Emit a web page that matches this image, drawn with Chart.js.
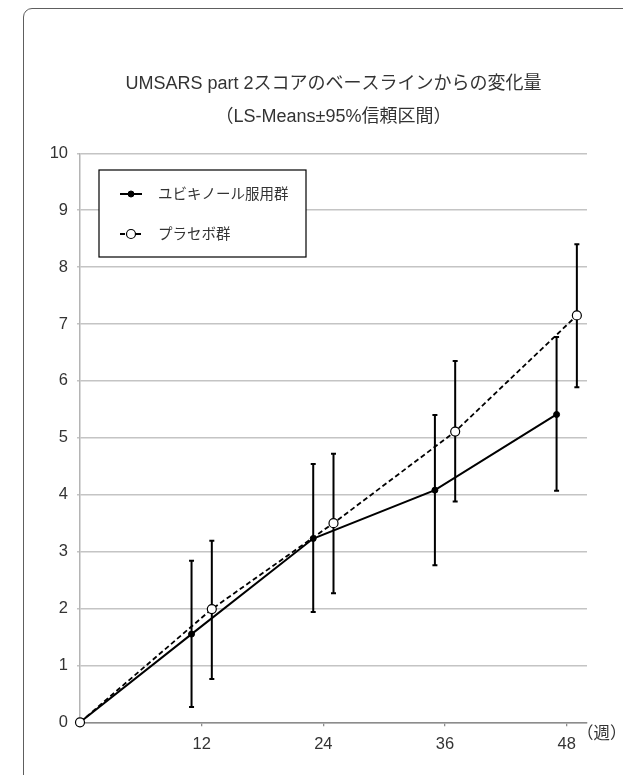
<!DOCTYPE html>
<html>
<head>
<meta charset="utf-8">
<script src="https://cdn.jsdelivr.net/npm/chart.js@4"></script>
<style>
  html, body { margin: 0; padding: 0; background: #fff; overflow: hidden; }
  #wrap { position: relative; width: 623px; height: 775px; overflow: hidden; }
  #frame { position: absolute; left: 23px; top: 8px; width: 680px; height: 840px;
           border: 1.3px solid #5e5e5e; border-radius: 9px; box-sizing: border-box; }
  #c { position: absolute; left: 0; top: 0; }
</style>
</head>
<body>
<div id="wrap">
  <div id="frame"></div>
  <canvas id="c" width="623" height="775"></canvas>
</div>
<script>
// Chart text
const titleLines = ['UMSARS part 2スコアのベースラインからの変化量', '（LS-Means±95%信頼区間）'];
const seriesNames = ['ユビキノール服用群', 'プラセボ群'];
const xUnitLabel = '（週）';

// Visit weeks and axis ticks
const weeks = [0, 12, 24, 36, 48];
const xTickValues = [12, 24, 36, 48];

// Change from baseline: LS-means and 95% confidence limits
const ubiMean  = [0, 1.55, 3.23, 4.08, 5.41];
const ubiLower = [null, 0.27, 1.94, 2.76, 4.07];
const ubiUpper = [null, 2.84, 4.54, 5.40, 6.77];

const placeboMean  = [0, 1.99, 3.50, 5.11, 7.15];
const placeboLower = [null, 0.76, 2.27, 3.88, 5.89];
const placeboUpper = [null, 3.19, 4.72, 6.35, 8.40];

// Horizontal dodge (in weeks) so the two groups' error bars do not overlap
const dodge = 1;

const FONT = '"Liberation Sans", "Noto Sans CJK JP", sans-serif';
const TEXT = '#333333';

function points(mean, shift) {
  return weeks.map((w, i) => ({ x: w === 0 ? 0 : w + shift, y: mean[i] }));
}

// Vertical error bars with small caps, drawn beneath lines and markers
const errorBarPlugin = {
  id: 'errorBars',
  beforeDatasetsDraw(chart) {
    const { ctx, scales: { x, y } } = chart;
    ctx.save();
    chart.data.datasets.forEach(ds => {
      if (!ds.lower) return;
      ds.data.forEach((p, i) => {
        if (ds.lower[i] == null) return;
        const px = x.getPixelForValue(p.x);
        const y1 = y.getPixelForValue(ds.lower[i]);
        const y2 = y.getPixelForValue(ds.upper[i]);
        ctx.strokeStyle = '#000';
        ctx.lineWidth = 2;
        ctx.beginPath();
        ctx.moveTo(px, y1); ctx.lineTo(px, y2);
        ctx.moveTo(px - 2.5, y1); ctx.lineTo(px + 2.5, y1);
        ctx.moveTo(px - 2.5, y2); ctx.lineTo(px + 2.5, y2);
        ctx.stroke();
      });
    });
    ctx.restore();
  }
};

// Boxed legend inside the plot area
const boxLegendPlugin = {
  id: 'boxLegend',
  afterDatasetsDraw(chart, args, opts) {
    const { ctx } = chart;
    const { left, top, width, height, rowY, sampleX0, sampleX1, textX } = opts;
    ctx.save();
    ctx.fillStyle = '#fff';
    ctx.fillRect(left, top, width, height);
    ctx.strokeStyle = '#000';
    ctx.lineWidth = 1.2;
    ctx.strokeRect(left, top, width, height);
    chart.data.datasets.forEach((ds, i) => {
      const yy = rowY[i];
      ctx.strokeStyle = ds.borderColor;
      ctx.lineWidth = ds.borderWidth;
      ctx.setLineDash(ds.borderDash || []);
      ctx.beginPath();
      ctx.moveTo(sampleX0, yy); ctx.lineTo(sampleX1, yy);
      ctx.stroke();
      ctx.setLineDash([]);
      const cx = (sampleX0 + sampleX1) / 2;
      ctx.beginPath();
      ctx.arc(cx, yy, ds.pointRadius, 0, Math.PI * 2);
      ctx.fillStyle = ds.pointBackgroundColor;
      ctx.fill();
      ctx.lineWidth = ds.pointBorderWidth;
      ctx.strokeStyle = ds.pointBorderColor;
      ctx.stroke();
      ctx.fillStyle = TEXT;
      ctx.font = '14.5px ' + FONT;
      ctx.textAlign = 'left';
      ctx.textBaseline = 'middle';
      ctx.fillText(ds.label, textX, yy + 1);
    });
    ctx.restore();
  }
};

// Unit text placed after the last x tick label
const xUnitPlugin = {
  id: 'xUnit',
  afterDraw(chart) {
    const scale = chart.scales.x;
    const items = scale.getLabelItems();
    if (!items.length) return;
    const last = items[items.length - 1];
    const { ctx } = chart;
    ctx.save();
    ctx.font = last.font.string;
    const w = ctx.measureText(String(last.label)).width;
    const [tx, ty] = last.options.translation;
    ctx.fillStyle = TEXT;
    ctx.textAlign = 'left';
    ctx.textBaseline = last.options.textBaseline;
    ctx.fillText(xUnitLabel, tx + w / 2 + 1, ty);
    ctx.restore();
  }
};

new Chart(document.getElementById('c'), {
  type: 'line',
  data: {
    datasets: [
      {
        label: seriesNames[0],
        data: points(ubiMean, -dodge),
        lower: ubiLower,
        upper: ubiUpper,
        borderColor: '#000',
        borderWidth: 2,
        pointRadius: 3,
        pointBackgroundColor: '#000',
        pointBorderColor: '#000',
        pointBorderWidth: 1,
        tension: 0,
        clip: false,
        order: 1
      },
      {
        label: seriesNames[1],
        data: points(placeboMean, dodge),
        lower: placeboLower,
        upper: placeboUpper,
        borderColor: '#000',
        borderWidth: 1.8,
        borderDash: [5, 3],
        pointRadius: 4.5,
        pointBackgroundColor: '#fff',
        pointBorderColor: '#000',
        pointBorderWidth: 1.2,
        tension: 0,
        clip: false,
        order: 0
      }
    ]
  },
  options: {
    responsive: false,
    animation: false,
    devicePixelRatio: 1,
    layout: { padding: { left: 0, right: 36, top: 0, bottom: 0 } },
    font: { family: FONT },
    plugins: {
      legend: { display: false },
      tooltip: { enabled: false },
      title: {
        display: true,
        fullSize: false,
        text: titleLines,
        color: TEXT,
        font: { family: FONT, size: 18, weight: 'normal', lineHeight: 33 / 18 },
        padding: { top: 67.5, bottom: 19.8 }
      },
      boxLegend: {
        left: 99, top: 170, width: 207, height: 87,
        rowY: [194, 234], sampleX0: 120, sampleX1: 142, textX: 158
      }
    },
    scales: {
      x: {
        type: 'linear',
        min: 0,
        max: 50,
        afterBuildTicks: s => { s.ticks = xTickValues.map(v => ({ value: v })); },
        afterFit: s => { s.height = 52.7; },
        grid: { display: true, drawOnChartArea: false, drawTicks: true, tickLength: 4, color: '#8c8c8c', lineWidth: 1.3 },
        border: { display: true, color: '#8c8c8c', width: 1.5 },
        ticks: { color: TEXT, font: { family: FONT, size: 16.5 }, padding: 8, maxRotation: 0, autoSkip: false }
      },
      y: {
        min: 0,
        max: 10,
        afterFit: s => { s.width = 80; },
        grid: { color: '#c4c4c4', lineWidth: 1.5, tickLength: 3, drawTicks: true },
        border: { display: true, color: '#b4b4b4', width: 1.5 },
        ticks: { stepSize: 1, color: TEXT, font: { family: FONT, size: 16.5 }, padding: 9 }
      }
    }
  },
  plugins: [errorBarPlugin, boxLegendPlugin, xUnitPlugin]
});
</script>
</body>
</html>
